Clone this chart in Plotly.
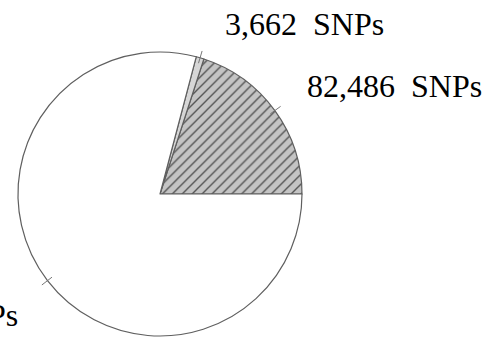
import math
import plotly.graph_objects as go

labels = ["82,486 SNPs", "3,662 SNPs", "326,282 SNPs"]
values = [82486, 3662, 326282]

W, H = 499, 341
cx, cy, R = 160, 194, 142  # pixel layout of the pie

total = sum(values)
rot = 90 - 360 * values[0] / total

fig = go.Figure(go.Pie(
    labels=labels, values=values, sort=False, direction="counterclockwise",
    rotation=rot, textinfo="none", hoverinfo="label+value",
    marker=dict(
        colors=["#c4c4c4", "#d6d6d6", "#ffffff"],
        line=dict(color="#5f5f5f", width=1.2),
        pattern=dict(shape=["/", "", ""], fgcolor="#555555", bgcolor=["#c4c4c4", "#d6d6d6", "#ffffff"],
                     size=7, solidity=0.2, fillmode="replace"),
    ),
    domain=dict(x=[(cx - R) / W, (cx + R) / W], y=[(H - cy - R) / H, (H - cy + R) / H]),
    showlegend=False,
))

# leader ticks at slice midpoints, derived from data
shapes = []
start = 0.0
for v in values:
    ang = start + v / total * 360 / 2
    start += v / total * 360
    a = math.radians(ang)
    r1, r2 = R * 0.96, R * 1.05
    x0, y0 = cx + r1 * math.cos(a), cy - r1 * math.sin(a)
    x1, y1 = cx + r2 * math.cos(a), cy - r2 * math.sin(a)
    shapes.append(dict(type="line", xref="paper", yref="paper",
                       x0=x0 / W, y0=1 - y0 / H, x1=x1 / W, y1=1 - y1 / H,
                       line=dict(color="#777777", width=1)))

font = dict(family="Liberation Serif, Times New Roman, serif", size=32, color="#000000")
annotations = [
    dict(text=labels[1].replace(" ", "  "), x=223 / W, y=1 - 24 / H, xanchor="left", yanchor="middle"),
    dict(text=labels[0].replace(" ", "  "), x=305 / W, y=1 - 86 / H, xanchor="left", yanchor="middle"),
    dict(text=labels[2].replace(" ", "  "), x=20 / W, y=1 - 315 / H, xanchor="right", yanchor="middle"),
]
for an in annotations:
    an.update(xref="paper", yref="paper", showarrow=False, font=font)

fig.update_layout(width=W, height=H, margin=dict(l=0, r=0, t=0, b=0),
                  paper_bgcolor="white", plot_bgcolor="white",
                  shapes=shapes, annotations=annotations)
fig.write_html("out.html", config={"displayModeBar": False},
               post_script="document.body.style.margin='0';document.body.style.padding='0';")
